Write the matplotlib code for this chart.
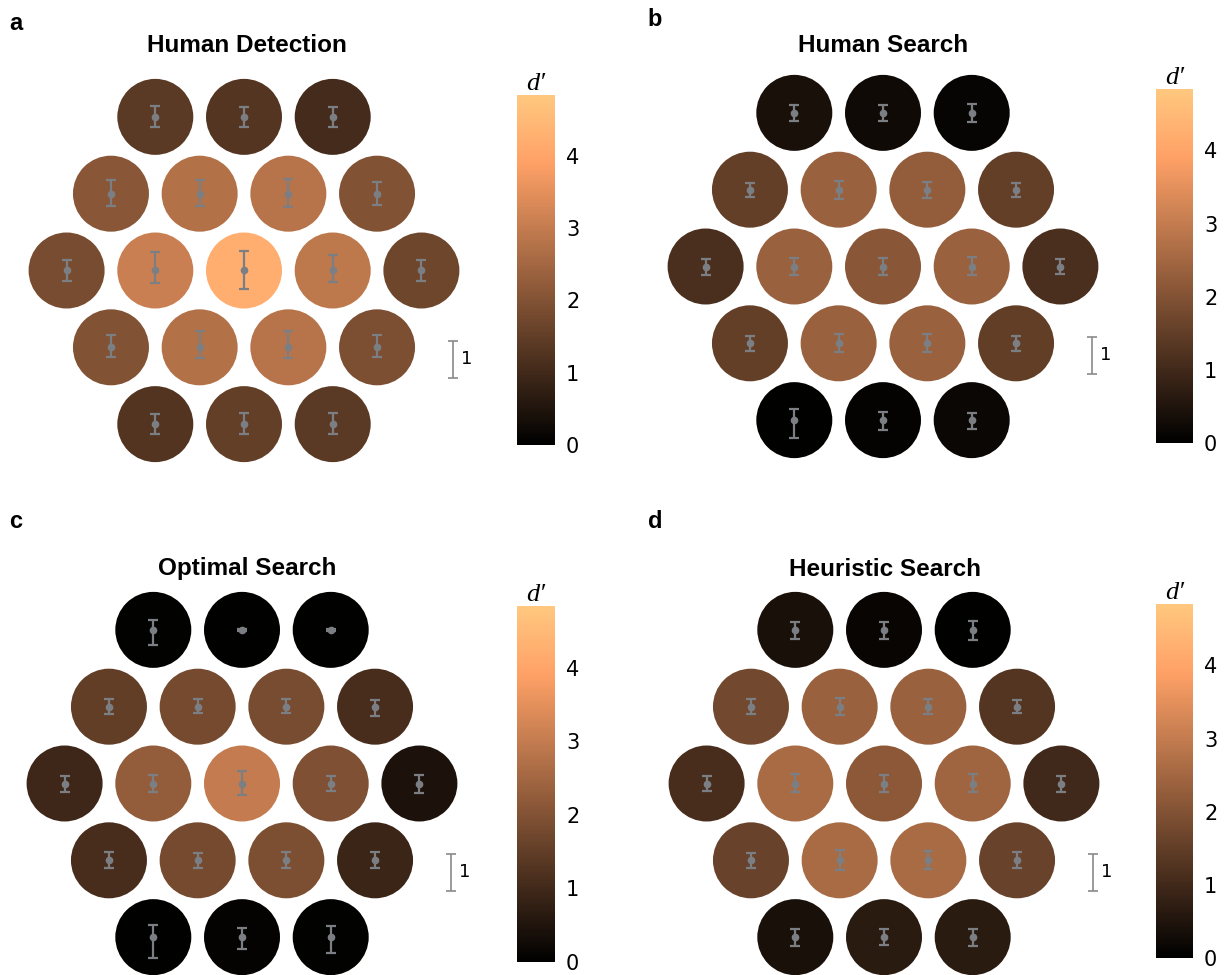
import numpy as np
import matplotlib
matplotlib.use('Agg')
import matplotlib.pyplot as plt
from matplotlib.patches import Circle
from matplotlib.collections import PatchCollection

# d' per location, rows top to bottom (3,4,5,4,3), left to right
titles = ['Human Detection', 'Human Search', 'Optimal Search', 'Heuristic Search']
letters = ['a', 'b', 'c', 'd']

dprime_detect = [1.40, 1.30, 1.05,
                 2.10, 2.75, 2.80, 2.00,
                 1.85, 3.10, 4.22, 2.90, 1.70,
                 2.00, 2.75, 2.80, 1.90,
                 1.25, 1.55, 1.40]
dprime_search = [0.40, 0.25, 0.12,
                 1.55, 2.35, 2.25, 1.55,
                 1.15, 2.35, 2.10, 2.35, 1.15,
                 1.55, 2.35, 2.35, 1.50,
                 0.03, 0.08, 0.18]
dprime_optimal = [0.05, 0.02, 0.03,
                  1.50, 1.80, 1.85, 1.10,
                  0.95, 2.25, 3.00, 1.95, 0.45,
                  1.10, 1.80, 1.90, 0.90,
                  0.03, 0.08, 0.05]
dprime_heur = [0.40, 0.15, 0.03,
               1.75, 2.35, 2.35, 1.30,
               1.10, 2.60, 2.15, 2.45, 1.00,
               1.60, 2.60, 2.60, 1.60,
               0.38, 0.65, 0.65]

# error bar half-lengths (upper, lower) in d' units
err_up_detect = [0.30, 0.27, 0.28,
                 0.38, 0.38, 0.41, 0.32,
                 0.28, 0.49, 0.54, 0.41, 0.28,
                 0.32, 0.43, 0.43, 0.32,
                 0.27, 0.30, 0.30]
err_lo_detect = [0.27, 0.27, 0.28,
                 0.32, 0.32, 0.35, 0.30,
                 0.28, 0.35, 0.51, 0.32, 0.28,
                 0.27, 0.30, 0.30, 0.27,
                 0.27, 0.27, 0.27]
err_up_search = [0.22, 0.22, 0.24,
                 0.19, 0.24, 0.21, 0.18,
                 0.19, 0.24, 0.24, 0.27, 0.19,
                 0.19, 0.24, 0.24, 0.21,
                 0.31, 0.21, 0.20]
err_lo_search = [0.21, 0.22, 0.26,
                 0.21, 0.24, 0.22, 0.20,
                 0.22, 0.24, 0.22, 0.24, 0.20,
                 0.20, 0.24, 0.24, 0.20,
                 0.49, 0.26, 0.24]
err_up_optimal = [0.28, 0.03, 0.03,
                  0.20, 0.20, 0.21, 0.19,
                  0.20, 0.22, 0.33, 0.20, 0.22,
                  0.22, 0.20, 0.22, 0.22,
                  0.32, 0.26, 0.29]
err_lo_optimal = [0.40, 0.03, 0.03,
                  0.21, 0.18, 0.17, 0.24,
                  0.22, 0.22, 0.30, 0.21, 0.26,
                  0.22, 0.22, 0.22, 0.22,
                  0.56, 0.31, 0.43]
err_up_heur = [0.22, 0.22, 0.24,
               0.21, 0.24, 0.22, 0.19,
               0.19, 0.26, 0.24, 0.26, 0.21,
               0.20, 0.27, 0.26, 0.22,
               0.22, 0.21, 0.22]
err_lo_heur = [0.25, 0.25, 0.28,
               0.20, 0.22, 0.20, 0.17,
               0.21, 0.22, 0.22, 0.22, 0.22,
               0.21, 0.25, 0.24, 0.22,
               0.24, 0.22, 0.24]

panels = [(dprime_detect, err_up_detect, err_lo_detect),
          (dprime_search, err_up_search, err_lo_search),
          (dprime_optimal, err_up_optimal, err_lo_optimal),
          (dprime_heur, err_up_heur, err_lo_heur)]

row_sizes = [3, 4, 5, 4, 3]
VMAX = 4.84

# layout (pixels)
W, H = 1231, 975
SP = 88.7          # px between neighbouring centres
R = 38 / SP        # circle radius in spacing units
ESC = 37 / SP      # length of one d' unit
centres_px = [(244, 270.5), (883, 266.5), (242, 783.5), (884, 783.5)]
cbar_px = [(517, 95, 555, 445), (1156, 89, 1193, 443),
           (517, 606, 555, 962), (1156, 604, 1193, 958)]
title_px = [(247, 45), (883, 45), (247, 569), (885, 569)]
letter_px = [(16, 23), (655, 19), (16, 521), (655, 521)]
ERRC = '#7b7f84'

# hex grid positions
hx, hy = [], []
for r, n in enumerate(row_sizes):
    for k in range(n):
        hx.append(k - (n - 1) / 2)
        hy.append((2 - r) * np.sqrt(3) / 2)
hx = np.array(hx)
hy = np.array(hy)

fig = plt.figure(figsize=(W / 100, H / 100), dpi=100)

for i, (vals, eu, el) in enumerate(panels):
    cx, cy = centres_px[i]
    hw, hh = 240, 205
    ax = fig.add_axes([(cx - hw) / W, 1 - (cy + hh) / H, 2 * hw / W, 2 * hh / H])
    ax.set_xlim(-hw / SP, hw / SP)
    ax.set_ylim(-hh / SP, hh / SP)
    ax.axis('off')

    circles = [Circle((x, y), R) for x, y in zip(hx, hy)]
    pc = PatchCollection(circles, cmap='copper', edgecolor='none')
    pc.set_array(np.array(vals))
    pc.set_clim(0, VMAX)
    ax.add_collection(pc)

    ax.errorbar(hx, hy, yerr=[np.array(el) * ESC, np.array(eu) * ESC], fmt='o',
                color=ERRC, ms=4.5, elinewidth=1.6, capsize=3.3, capthick=1.6, zorder=3)

    # scale bar of 1 d'
    ax.errorbar([2.36], [-1.0], yerr=[[0.5 * ESC], [0.5 * ESC]], fmt='none',
                ecolor='#8a8a8a', elinewidth=1.2, capsize=3.3, capthick=1.2)
    ax.text(2.36 + 8 / SP, -1.0, '1', fontsize=13, va='center', ha='left')

    tx, ty = title_px[i]
    fig.text(tx / W, 1 - ty / H, titles[i], fontsize=17.5, fontweight='bold',
             family='Liberation Sans', ha='center', va='center')
    lx, ly = letter_px[i]
    fig.text(lx / W, 1 - ly / H, letters[i], fontsize=17, fontweight='bold',
             family='Liberation Sans', ha='center', va='center')

    x0, y0, x1, y1 = cbar_px[i]
    cax = fig.add_axes([x0 / W, 1 - y1 / H, (x1 - x0) / W, (y1 - y0) / H])
    cb = fig.colorbar(pc, cax=cax, ticks=[0, 1, 2, 3, 4])
    cb.outline.set_visible(False)
    cax.tick_params(length=0, labelsize=15, pad=8)
    cax.set_title('d\u2032', fontsize=19, fontstyle='italic',
                  family=['Liberation Serif', 'DejaVu Serif'], pad=3)

fig.savefig('out.png', dpi=100, facecolor='white')
